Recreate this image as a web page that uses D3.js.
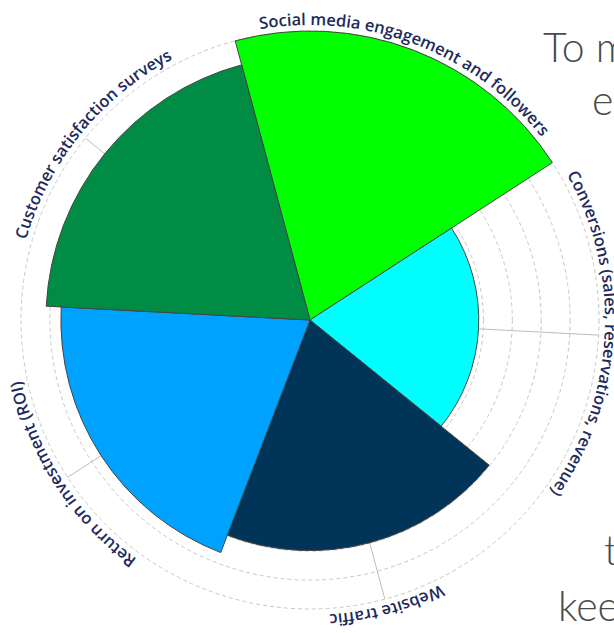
<!DOCTYPE html>
<html>
<head>
<meta charset="utf-8">
<script src="https://cdn.jsdelivr.net/npm/d3@7"></script>
<style>
  body { margin: 0; background: #fff; overflow: hidden; }
  svg { display: block; }
</style>
</head>
<body>
<svg width="614" height="633"></svg>
<script>
const categories = [
  "Social media engagement and followers",
  "Conversions (sales, reservations, revenue)",
  "Website traffic",
  "Return on investment (ROI)",
  "Customer satisfaction surveys"
];
const values = [10, 5.84, 7.98, 8.62, 9.14];
const colors = ["#00ff00", "#00ffff", "#003459", "#00a2ff", "#008c45"];
const gridTicks = [1, 2, 3, 4, 5, 6, 7, 8, 9, 10];
// text of the page behind the chart, only these bits show
const sideLines = ["To m", "e", "t", "kee"];

const width = 614;
const height = 633;
const cx = 310;
const cy = 320;
const outer = 289;
const labelR = 295;
const deg = Math.PI / 180;

const svg = d3.select("svg");

// side paragraph
const sidePos = [[543, 62], [592, 115], [604, 565], [558, 621]];
svg.append("g")
  .selectAll("text")
  .data(sideLines)
  .join("text")
  .attr("x", (d, i) => sidePos[i][0])
  .attr("y", (d, i) => sidePos[i][1])
  .attr("font-family", "Lato")
  .attr("font-weight", 300)
  .attr("font-size", 41)
  .attr("fill", "#4a4a4a")
  .text((d) => d);

const angle = d3
  .scaleBand()
  .domain(categories)
  .range([-15 * deg, 345 * deg]);

const r = d3.scaleLinear().domain([0, 10]).range([0, outer]);

const g = svg.append("g").attr("transform", `translate(${cx},${cy})`);

const mid = (c) => angle(c) + angle.bandwidth() / 2;
const pt = (a, rad) => [rad * Math.sin(a), -rad * Math.cos(a)];

// grid
g.append("g")
  .selectAll("circle")
  .data(gridTicks)
  .join("circle")
  .attr("r", (d) => r(d))
  .attr("fill", "none")
  .attr("stroke", "#c8c8c8")
  .attr("stroke-dasharray", "4,3");

// axis lines
g.append("g")
  .selectAll("line")
  .data(categories)
  .join("line")
  .attr("x2", (d) => pt(mid(d), outer)[0])
  .attr("y2", (d) => pt(mid(d), outer)[1])
  .attr("stroke", "#bdbdbd")
  .attr("stroke-width", 1);

// sectors
const arc = d3
  .arc()
  .innerRadius(0)
  .outerRadius((d) => r(d.v))
  .startAngle((d) => angle(d.c))
  .endAngle((d) => angle(d.c) + angle.bandwidth());

g.append("g")
  .selectAll("path")
  .data(categories.map((c, i) => ({ c: c, v: values[i] })))
  .join("path")
  .attr("d", arc)
  .attr("fill", (d, i) => colors[i])
  .attr("stroke", "#444")
  .attr("stroke-width", 1);

// curved labels
const defs = svg.append("defs");
categories.forEach((c, i) => {
  const a = mid(c);
  const p0 = pt(a - 1.3, labelR);
  const p1 = pt(a + 1.3, labelR);
  defs.append("path")
    .attr("id", "lab" + i)
    .attr("d", `M${p0[0]},${p0[1]} A${labelR},${labelR} 0 0 1 ${p1[0]},${p1[1]}`);
});

g.append("g")
  .selectAll("text")
  .data(categories)
  .join("text")
  .attr("font-family", "Open Sans")
  .attr("font-weight", 600)
  .attr("font-size", 16.5)
  .attr("fill", "#1d2a5c")
  .append("textPath")
  .attr("href", (d, i) => "#lab" + i)
  .attr("startOffset", "50%")
  .attr("text-anchor", "middle")
  .text((d) => d);
</script>
</body>
</html>
